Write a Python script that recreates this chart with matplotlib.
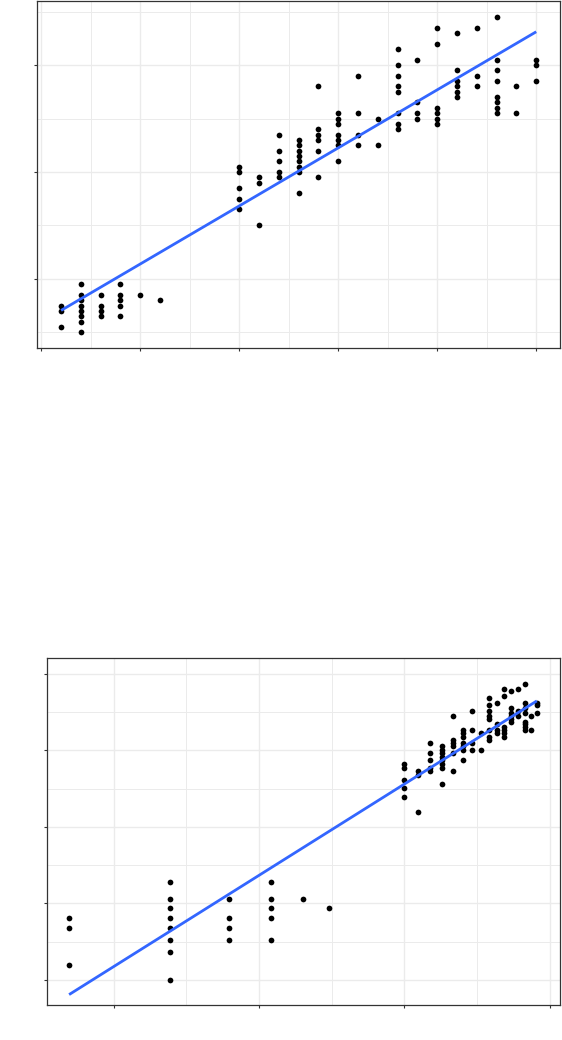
import matplotlib

matplotlib.use("Agg")
import matplotlib.pyplot as plt
import numpy as np

# raw data: x value and y values per column
col_x = [2, 4, 6, 8, 10, 12, 20, 22, 24, 26, 28, 30, 32, 34, 36, 38, 40, 42, 44, 46, 48, 50]
col_y = [
    [1.5, 1.4, 1.1],
    [1.9, 1.7, 1.6, 1.5, 1.4, 1.3, 1.2, 1.0],
    [1.7, 1.5, 1.4, 1.3],
    [1.9, 1.7, 1.6, 1.5, 1.3],
    [1.7],
    [1.6],
    [4.1, 4.0, 3.7, 3.5, 3.3],
    [3.9, 3.8, 3.0],
    [4.7, 4.4, 4.2, 4.0, 3.9],
    [4.6, 4.5, 4.4, 4.3, 4.2, 4.1, 4.0, 3.6],
    [5.6, 4.8, 4.7, 4.6, 4.4, 3.9],
    [5.1, 5.0, 4.9, 4.7, 4.6, 4.5, 4.2],
    [5.8, 5.1, 4.7, 4.5],
    [5.0, 4.5],
    [6.3, 6.0, 5.8, 5.6, 5.5, 5.1, 4.9, 4.8],
    [6.1, 5.3, 5.1, 5.0],
    [6.7, 6.4, 5.2, 5.1, 5.0, 4.9],
    [6.6, 5.9, 5.7, 5.6, 5.5, 5.4],
    [6.7, 5.8, 5.6],
    [6.9, 6.1, 5.9, 5.7, 5.4, 5.3, 5.2, 5.1],
    [5.6, 5.1],
    [6.1, 6.0, 5.7],
]

top_xmajor = [0, 10, 20, 30, 40, 50]
top_xminor = [5, 15, 25, 35, 45]
top_ymajor = [2, 4, 6]
top_yminor = [1, 3, 5, 7]
bot_xmajor = [1, 2, 3, 4]
bot_xminor = [1.5, 2.5, 3.5]
bot_ymajor = [0, 0.5, 1.0, 1.5, 2.0]
bot_yminor = [0.25, 0.75, 1.25, 1.75]

GRID = "#EBEBEB"
DARK = "#333333"
LINE = "#3366FF"


def style_panel(ax, xmaj, xmin, ymaj, ymin):
    for v in xmin:
        ax.axvline(v, color=GRID, lw=0.7, zorder=0)
    for v in ymin:
        ax.axhline(v, color=GRID, lw=0.7, zorder=0)
    for v in xmaj:
        ax.axvline(v, color=GRID, lw=1.0, zorder=0)
    for v in ymaj:
        ax.axhline(v, color=GRID, lw=1.0, zorder=0)
    ax.set_xticks(xmaj)
    ax.set_yticks(ymaj)
    ax.set_xticklabels([])
    ax.set_yticklabels([])
    ax.tick_params(length=2.2, width=0.8, color=DARK)
    for s in ax.spines.values():
        s.set_color(DARK)
        s.set_linewidth(0.9)


def panel(ax, x, y):
    ax.scatter(x, y, s=17, color="black", linewidths=0, zorder=3)
    fit = np.polyfit(x, y, 1)
    xl = np.linspace(x.min(), x.max(), 100)
    ax.plot(xl, np.polyval(fit, xl), color=LINE, lw=2.0, zorder=4,
            solid_capstyle="butt")


x = np.concatenate([[cx] * len(cy) for cx, cy in zip(col_x, col_y)]).astype(float)
y = np.concatenate(col_y).astype(float)

fig = plt.figure(figsize=(5.62, 10.40), dpi=100)

ax1 = fig.add_axes([0.0664, 0.6654, 0.93, 0.3334])
panel(ax1, x, y)
ax1.set_xlim(-0.4, 52.4)
ax1.set_ylim(0.705, 7.195)
style_panel(ax1, top_xmajor, top_xminor, top_ymajor, top_yminor)

ax2 = fig.add_axes([0.0831, 0.03365, 0.914, 0.3337])
panel(ax2, np.log(x), np.log(y))
ax2.set_xlim(0.539, 4.074)
ax2.set_ylim(-0.163, 2.102)
style_panel(ax2, bot_xmajor, bot_xminor, bot_ymajor, bot_yminor)

fig.savefig("out.png", dpi=100)
